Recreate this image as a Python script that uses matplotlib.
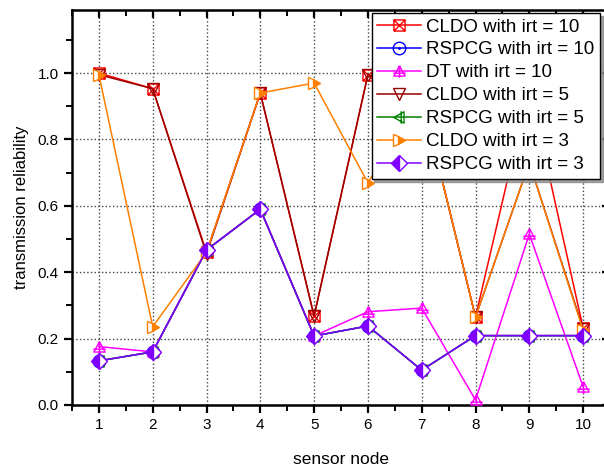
import matplotlib
matplotlib.use("Agg")
import matplotlib.pyplot as plt
import numpy as np
from matplotlib.path import Path
from matplotlib.ticker import MultipleLocator

plt.rcParams['font.family'] = ['Liberation Sans', 'DejaVu Sans']

nodes = [1, 2, 3, 4, 5, 6, 7, 8, 9, 10]
cldo_irt10 = [1.0, 0.953, 0.46, 0.94, 0.268, 0.995, 0.93, 0.265, 0.96, 0.232]
rspcg_irt10 = [0.133, 0.16, 0.467, 0.59, 0.208, 0.238, 0.105, 0.209, 0.209, 0.209]
dt_irt10 = [0.176, 0.16, 0.467, 0.59, 0.208, 0.281, 0.292, 0.015, 0.515, 0.055]
cldo_irt5 = [0.995, 0.953, 0.455, 0.94, 0.268, 0.995, 0.93, 0.265, 0.73, 0.23]
rspcg_irt5 = [0.133, 0.16, 0.467, 0.59, 0.208, 0.238, 0.105, 0.209, 0.209, 0.209]
cldo_irt3 = [0.995, 0.236, 0.46, 0.94, 0.97, 0.669, 0.93, 0.265, 0.73, 0.225]
rspcg_irt3 = [0.133, 0.16, 0.467, 0.59, 0.208, 0.238, 0.105, 0.209, 0.209, 0.209]
labels = ["CLDO with irt = 10", "RSPCG with irt = 10", "DT with irt = 10",
          "CLDO with irt = 5", "RSPCG with irt = 5", "CLDO with irt = 3",
          "RSPCG with irt = 3"]

# custom markers
M, L, C = Path.MOVETO, Path.LINETO, Path.CLOSEPOLY
box_x = Path([(-1, -1), (1, -1), (1, 1), (-1, 1), (-1, -1),
              (-1, -1), (1, 1), (-1, 1), (1, -1)],
             [M, L, L, L, L, M, L, M, L])
circ_dot = Path.make_compound_path(Path.unit_circle(), Path.circle(radius=0.12))
tri_cross = Path([(0, 1), (-1, -0.8), (1, -0.8), (0, 1),
                  (0, 1), (0, -1.1), (-1.1, -0.3), (1.1, -0.3)],
                 [M, L, L, L, M, L, M, L])
tri_left_bar = Path([(-1, 0), (0.8, 1), (0.8, -1), (-1, 0),
                     (0.3, 1.1), (0.3, -1.1)],
                    [M, L, L, L, M, L])

fig = plt.figure(figsize=(6.04, 4.71), dpi=100)
ax = fig.add_axes([72/604, 1-405/471, 538/604, 395/471])

lw = 1.1
ax.plot(nodes, cldo_irt10, color='#ff0000', lw=lw, marker=box_x, ms=8,
        mfc='none', mec='#ff0000', mew=1.0, label=labels[0], zorder=3)
ax.plot(nodes, rspcg_irt10, color='#0000ff', lw=lw, marker=circ_dot, ms=9,
        mfc='none', mec='#0000ff', mew=1.0, label=labels[1], zorder=3)
ax.plot(nodes, dt_irt10, color='#ff00ff', lw=lw, marker=tri_cross, ms=9,
        mfc='none', mec='#ff00ff', mew=1.0, label=labels[2], zorder=3)
ax.plot(nodes, cldo_irt5, color='#990000', lw=lw, marker='v', ms=9,
        mfc='none', mec='#990000', mew=1.0, label=labels[3], zorder=3)
ax.plot(nodes, rspcg_irt5, color='#008000', lw=lw, marker=tri_left_bar, ms=9,
        mfc='none', mec='#008000', mew=1.0, label=labels[4], zorder=3)
ax.plot(nodes, cldo_irt3, color='#ff8000', lw=lw, marker='>', ms=9,
        fillstyle='right', mfc='#ff8000', mfcalt='white', mec='#ff8000',
        mew=1.0, label=labels[5], zorder=3)
ax.plot(nodes, rspcg_irt3, color='#8000ff', lw=lw, marker='D', ms=8,
        fillstyle='left', mfc='#8000ff', mfcalt='white', mec='#8000ff',
        mew=1.0, label=labels[6], zorder=3)

ax.set_xlim(0.5, 10.5)
ax.set_ylim(0, 1.19)
ax.xaxis.set_major_locator(MultipleLocator(1))
ax.xaxis.set_minor_locator(MultipleLocator(0.5))
ax.yaxis.set_minor_locator(MultipleLocator(0.1))
ax.set_yticks([0, 0.2, 0.4, 0.6, 0.8, 1.0])
ax.set_yticklabels(['0.0', '0.2', '0.4', '0.6', '0.8', '1.0'])

ax.grid(True, which='major', color='#444444', linestyle=':', linewidth=1.0)
for s in ax.spines.values():
    s.set_linewidth(1.8)

ax.tick_params(axis='both', which='major', length=6, width=1.6, labelsize=11)
ax.tick_params(axis='both', which='minor', length=4, width=1.4)
ax.tick_params(axis='x', which='both', direction='out', top=True, bottom=True)
ax.tick_params(axis='y', which='both', direction='out', left=True, right=True)
# top/right ticks inward
for t in ax.xaxis.get_major_ticks() + ax.xaxis.get_minor_ticks():
    t.tick2line.set_marker(3)
for t in ax.yaxis.get_major_ticks() + ax.yaxis.get_minor_ticks():
    t.tick2line.set_marker(0)

ax.set_xlabel('sensor node', fontsize=12.5, labelpad=14)
ax.set_ylabel('transmission reliability', fontsize=12, labelpad=6)

leg = ax.legend(loc='upper left', bbox_to_anchor=(0.557, 0.993),
                borderaxespad=0, fontsize=13.5, frameon=True, fancybox=False,
                shadow={'color': '#888888', 'alpha': 0.8},
                handlelength=2.35, handletextpad=0.27,
                labelspacing=0.31, borderpad=0.3)
leg.get_frame().set_edgecolor('black')
leg.get_frame().set_linewidth(1.0)
leg.get_frame().set_alpha(1)

fig.savefig('out.png', dpi=100)
